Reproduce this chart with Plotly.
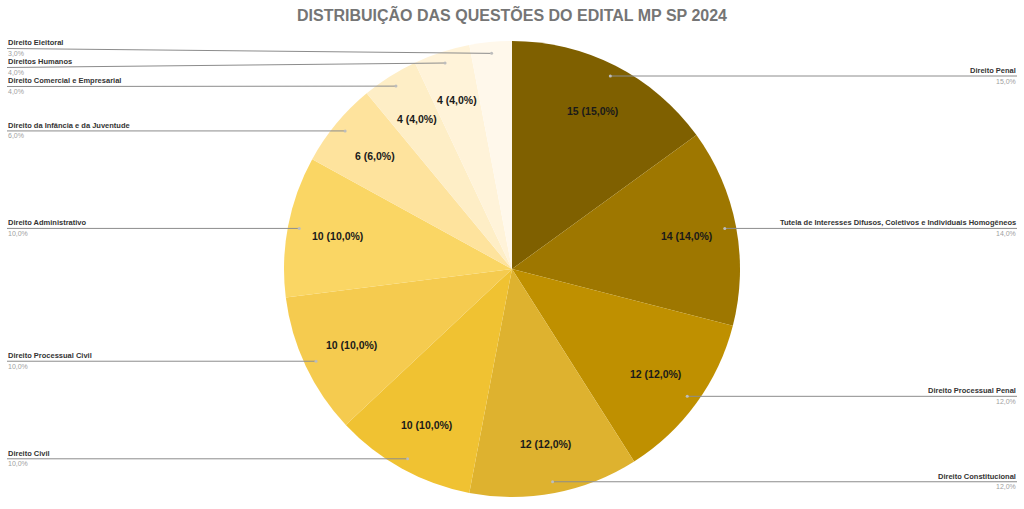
import numpy as np
import plotly.graph_objects as go

# dados do gráfico
categorias = [
    "Direito Penal",
    "Tutela de Interesses Difusos, Coletivos e Individuais Homogêneos",
    "Direito Processual Penal",
    "Direito Constitucional",
    "Direito Civil",
    "Direito Processual Civil",
    "Direito Administrativo",
    "Direito da Infância e da Juventude",
    "Direito Comercial e Empresarial",
    "Direitos Humanos",
    "Direito Eleitoral",
]
questoes = [15, 14, 12, 12, 10, 10, 10, 6, 4, 4, 3]
cores = [
    "#7F6000", "#9E7700", "#BF9000", "#DEB22F", "#F0C232", "#F5CB4F",
    "#FAD664", "#FEE39D", "#FEEEC6", "#FFF3D9", "#FFF8EB",
]

W, H = 1024, 509
CX, CY, R = 512, 269, 228
FONTE = "Liberation Sans, Arial, sans-serif"


def px(x):
    return x / W


def py(y):
    return 1 - y / H


def fmt_pct(v):
    return f"{v:.1f}%".replace(".", ",")


total = sum(questoes)
frac = np.array(questoes) / total
meio = (np.cumsum(frac) - frac / 2) * 2 * np.pi  # horário a partir do topo

fig = go.Figure(go.Pie(
    labels=categorias,
    values=questoes,
    sort=False,
    direction="clockwise",
    rotation=0,
    marker=dict(colors=cores, line=dict(width=0)),
    textinfo="none",
    hoverinfo="label+value+percent",
    domain=dict(x=[0, 1], y=[py(CY + R), py(CY - R)]),
    showlegend=False,
))

anots = []
shapes = []

# rótulos internos
for a, q, f in zip(meio, questoes, frac):
    if f < 0.035:
        continue
    x = CX + 0.78 * R * np.sin(a)
    y = CY - 0.78 * R * np.cos(a)
    anots.append(dict(
        x=px(x), y=py(y), xref="paper", yref="paper", showarrow=False,
        xanchor="center", yanchor="middle",
        text=f"<b>{q} ({fmt_pct(f * 100)})</b>",
        font=dict(family=FONTE, size=10.5, color="#1a1a1a"),
    ))

# pontos das linhas de chamada
pts = []
for i, a in enumerate(meio):
    x = CX + 0.95 * R * np.sin(a)
    y = CY - 0.95 * R * np.cos(a)
    pts.append([i, x, y, y, np.sin(a) > 0])

# afastar rótulos sobrepostos
GAP = 19
for lado in (True, False):
    grupo = sorted([p for p in pts if p[4] == lado], key=lambda p: p[3])
    for _ in range(50):
        for j in range(1, len(grupo)):
            gap = grupo[j][3] - grupo[j - 1][3]
            if gap < GAP:
                d = (GAP - gap) / 2
                grupo[j - 1][3] -= d
                grupo[j][3] += d

for i, x, y, ly, direita in pts:
    xe = 1017 if direita else 7
    shapes.append(dict(type="line", xref="paper", yref="paper",
                       x0=px(xe), y0=py(ly), x1=px(x), y1=py(y),
                       line=dict(color="#8c8c8c", width=1)))
    shapes.append(dict(type="circle", xref="paper", yref="paper",
                       x0=px(x - 1.5), x1=px(x + 1.5), y0=py(y - 1.5), y1=py(y + 1.5),
                       fillcolor="#bdbdbd", line=dict(width=0)))
    anc = "right" if direita else "left"
    anots.append(dict(
        x=px(xe), y=py(ly), xref="paper", yref="paper", showarrow=False,
        xanchor=anc, yanchor="bottom", borderpad=0,
        text=f"<b>{categorias[i]}</b>",
        font=dict(family=FONTE, size=7.5, color="#333333"),
    ))
    anots.append(dict(
        x=px(xe), y=py(ly + 0.5), xref="paper", yref="paper", showarrow=False,
        xanchor=anc, yanchor="top", borderpad=0,
        text=fmt_pct(frac[i] * 100),
        font=dict(family=FONTE, size=7, color="#a0a0a0"),
    ))

fig.update_layout(
    width=W, height=H,
    margin=dict(l=0, r=0, t=0, b=0),
    paper_bgcolor="white",
    plot_bgcolor="white",
    separators=",.",
    title=dict(
        text="<b>DISTRIBUIÇÃO DAS QUESTÕES DO EDITAL MP SP 2024</b>",
        x=0.5, xanchor="center", y=py(15), yanchor="middle",
        font=dict(family=FONTE, size=16, color="#757575"),
    ),
    annotations=anots,
    shapes=shapes,
)

# sem margem da página, para o gráfico ocupar a janela inteira
fig.write_html("out.html", config={"displayModeBar": False},
               post_script="document.body.style.margin='0';")
